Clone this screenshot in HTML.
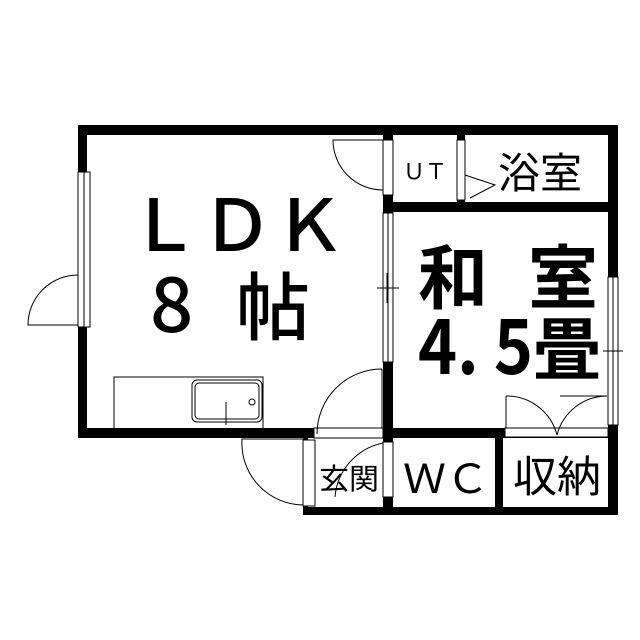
<!DOCTYPE html>
<html><head><meta charset="utf-8"><style>
html,body{margin:0;padding:0;background:#fff;width:640px;height:640px;overflow:hidden}
svg{display:block}
text{font-family:"Noto Sans CJK JP","Liberation Sans",sans-serif;fill:#000}
</style></head><body>
<svg width="640" height="640" viewBox="0 0 640 640">
<rect width="640" height="640" fill="#fff"/>
<g fill="#000">
<rect x="78" y="125" width="540" height="10"/>
<rect x="78" y="125" width="9" height="312"/>
<rect x="608" y="125" width="10" height="390"/>
<rect x="78" y="428" width="236" height="10"/>
<rect x="383" y="125" width="10" height="390"/>
<rect x="383" y="202" width="235" height="10"/>
<rect x="383" y="428" width="235" height="10"/>
<rect x="495" y="428" width="8" height="87"/>
<rect x="303" y="507" width="315" height="8"/>
<rect x="303" y="437" width="5" height="78"/>
<rect x="457" y="135" width="8" height="67"/>
</g>
<g fill="#fff" stroke="#000" stroke-width="1">
<rect x="78" y="172" width="12" height="155"/>
<line x1="84" y1="172" x2="84" y2="327"/>
<rect x="383" y="140" width="10" height="55"/>
<rect x="457" y="140" width="8" height="60"/>
<rect x="383" y="213" width="10" height="149"/>
<line x1="388" y1="213" x2="388" y2="362"/>
<rect x="608" y="277" width="10" height="148"/>
<line x1="613" y1="277" x2="613" y2="425"/>
<rect x="303" y="440" width="12" height="66"/>
<rect x="383" y="442" width="10" height="55"/>
<rect x="505" y="428" width="103" height="9"/>
<rect x="314" y="428" width="69" height="10"/>
</g>
<g fill="none" stroke="#000" stroke-width="1">
<path d="M78 275 A50 50 0 0 0 28 325 L78 325"/>
<path d="M383 140 L333 140 A50 50 0 0 0 383 190"/>
<path d="M465 175 L495 185 L470 198"/>
<path d="M382 369 A65 65 0 0 0 317 434 M382 369 L382 428"/>
<path d="M303 439 L242 439 A62 62 0 0 0 303 505"/>
<path d="M383 443 A60 60 0 0 0 335 497"/>
<path d="M506 396 L506 428 M506 396 A52 52 0 0 1 557 435 M607 396 A52 52 0 0 0 557 435 M560 396 L607 396"/>
<path d="M114 428 L114 377 L263 377 L263 428"/>
<rect x="192" y="380" width="70" height="42" rx="5"/>
<rect x="195" y="383" width="64" height="36" rx="4"/>
<line x1="226" y1="402" x2="226" y2="425"/>
<circle cx="252" cy="402" r="3"/>
<path d="M377 288 L399 288 M387 273 L387 303 M603 351 L623 351 M613 336 L613 366"/>
</g>
<text x="128" y="251" font-size="72" textLength="218" lengthAdjust="spacingAndGlyphs" font-weight="500">ＬＤＫ</text>
<text x="150" y="332" font-size="76" font-weight="500">8</text>
<text x="236" y="334" font-size="74" textLength="74" lengthAdjust="spacingAndGlyphs" font-weight="500">帖</text>
<text x="418" y="303" font-size="70" font-weight="bold">和</text>
<text x="528" y="303" font-size="70" font-weight="bold">室</text>
<text x="418" y="374" font-size="76" font-weight="bold" textLength="115" lengthAdjust="spacingAndGlyphs">4. 5</text>
<text x="533" y="374" font-size="68" font-weight="bold">畳</text>
<text x="403" y="179" font-size="22" textLength="44" lengthAdjust="spacingAndGlyphs">ＵＴ</text>
<text x="498" y="188" font-size="42" textLength="84" lengthAdjust="spacingAndGlyphs">浴室</text>
<text x="319" y="489" font-size="29" textLength="60" lengthAdjust="spacingAndGlyphs">玄関</text>
<text x="403" y="493" font-size="40" textLength="86" lengthAdjust="spacingAndGlyphs">ＷＣ</text>
<text x="513" y="492" font-size="43" textLength="88" lengthAdjust="spacingAndGlyphs">収納</text>
</svg>
</body></html>
